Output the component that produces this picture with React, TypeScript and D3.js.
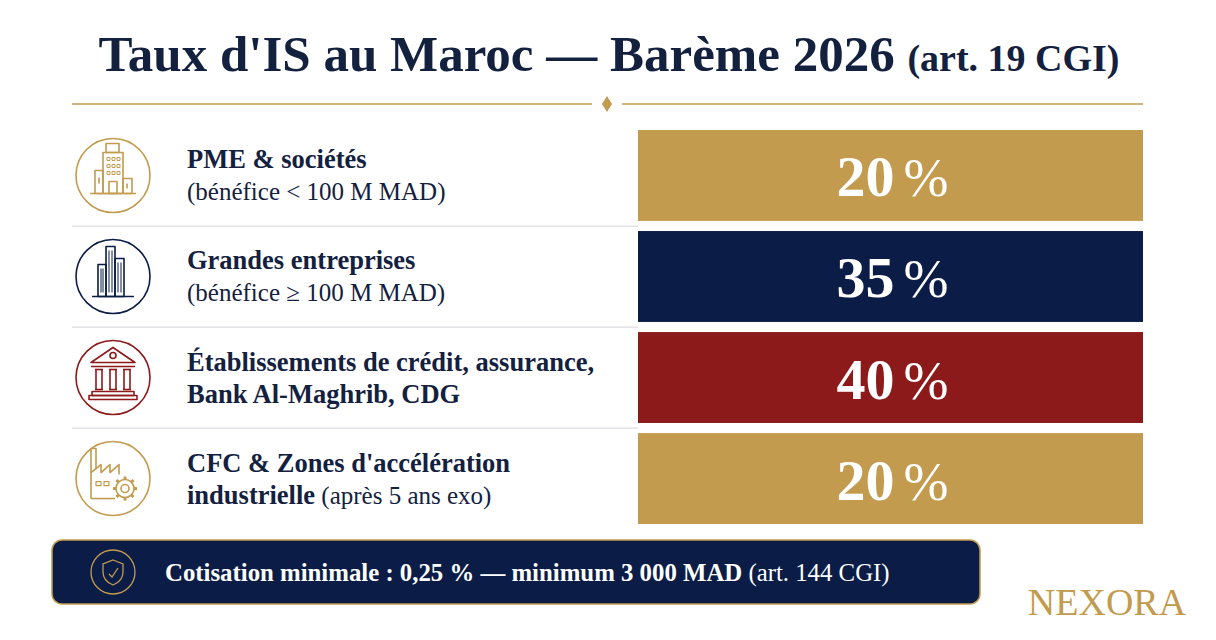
import React from "react";
import { scaleBand, scaleOrdinal } from "d3";

// Données du barème
const categories = ["pme", "grandes", "credit", "cfc"];
const labelLine1 = [
  "PME & sociétés",
  "Grandes entreprises",
  "Établissements de crédit, assurance,",
  "CFC & Zones d'accélération",
];
const labelLine2Bold = ["", "", "Bank Al-Maghrib, CDG", "industrielle"];
const labelLine2 = ["(bénéfice < 100 M MAD)", "(bénéfice ≥ 100 M MAD)", "", " (après 5 ans exo)"];
const rates = [20, 35, 40, 20];
const tones = ["gold", "navy", "red", "gold"];

const GOLD = "#c29b4f";
const NAVY = "#0b1d46";
const RED = "#8c1a1b";
const INK = "#13213f";
const FONT = "'Liberation Serif', 'Times New Roman', serif";

const W = 1216;
const H = 640;

const Icon: React.FC<{ kind: string; color: string }> = ({ kind, color }) => {
  const s = { fill: "none", stroke: color, strokeWidth: 1.6, strokeLinejoin: "round" as const };
  if (kind === "pme") {
    return (
      <g {...s}>
        <rect x={-7} y={-32} width={13} height={9} />
        <rect x={-10} y={-23} width={20} height={41} />
        <rect x={-18} y={-5} width={8} height={23} />
        <rect x={10} y={3} width={9} height={15} />
        <line x1={-23} y1={18} x2={23} y2={18} />
        {[-18, -11, -4].map((yy) =>
          [-6, -1, 4].map((xx) => <rect key={`${xx}${yy}`} x={xx} y={yy} width={3} height={3} strokeWidth={1} />)
        )}
        <rect x={-4} y={6} width={8} height={12} />
        <line x1={-14} y1={2} x2={-14} y2={8} />
        <line x1={14} y1={8} x2={14} y2={13} />
      </g>
    );
  }
  if (kind === "grandes") {
    return (
      <g {...s}>
        <rect x={-7} y={-30} width={9} height={50} />
        <rect x={2} y={-18} width={9} height={38} />
        <rect x={-15} y={-12} width={8} height={32} />
        <line x1={-21} y1={20} x2={21} y2={20} />
        {[-4, -1].map((xx) => <line key={xx} x1={xx} y1={-26} x2={xx} y2={16} strokeWidth={1} />)}
        {[5, 8].map((xx) => <line key={xx} x1={xx} y1={-14} x2={xx} y2={16} strokeWidth={1} />)}
        {[-12, -10].map((xx) => <line key={xx} x1={xx} y1={-8} x2={xx} y2={16} strokeWidth={1} />)}
      </g>
    );
  }
  if (kind === "credit") {
    return (
      <g {...s}>
        <path d="M-22,-15 L0,-30 L22,-15 Z" />
        <circle cx={0} cy={-22} r={3} />
        <line x1={-22} y1={-11} x2={22} y2={-11} />
        {[-14, 0, 14].map((xx) => (
          <g key={xx}>
            <line x1={xx - 4} y1={-8} x2={xx + 4} y2={-8} />
            <line x1={xx - 3} y1={-8} x2={xx - 3} y2={12} />
            <line x1={xx + 3} y1={-8} x2={xx + 3} y2={12} />
            <line x1={xx - 4} y1={12} x2={xx + 4} y2={12} />
          </g>
        ))}
        <rect x={-21} y={14} width={42} height={4} />
        <rect x={-24} y={18} width={48} height={4} />
      </g>
    );
  }
  // usine + engrenage
  const teeth = Array.from({ length: 8 }, (_, i) => (i * Math.PI) / 4);
  return (
    <g {...s}>
      <path d="M-22,20 L-22,-6 L-12,-14 L-12,-6 L-3,-14 L-3,-6 L6,-14 L6,-4" />
      <path d="M-22,-6 L-22,-30 L-17,-30 L-17,-10" />
      <line x1={-22} y1={20} x2={2} y2={20} />
      <rect x={-17} y={3} width={5} height={4} strokeWidth={1.2} />
      <rect x={-9} y={3} width={5} height={4} strokeWidth={1.2} />
      <g transform="translate(12,10)">
        <circle r={4} />
        <circle r={9} />
        {teeth.map((a, i) => (
          <line key={i} x1={9 * Math.cos(a)} y1={9 * Math.sin(a)} x2={12 * Math.cos(a)} y2={12 * Math.sin(a)} strokeWidth={3} />
        ))}
      </g>
    </g>
  );
};

const App: React.FC = () => {
  const yScale = scaleBand<string>().domain(categories).range([130, 524]).paddingInner(0.1);
  const color = scaleOrdinal<string, string>().domain(["gold", "navy", "red"]).range([GOLD, NAVY, RED]);

  const barX0 = 638;
  const barX1 = 1143;
  const iconX = 113;
  const textX = 187;

  return (
    <svg width={W} height={H} style={{ display: "block", margin: "-8px", fontFamily: FONT }}>
      <rect width={W} height={H} fill="#ffffff" />

      {/* Titre */}
      <text x={W / 2 + 1} y={71} textAnchor="middle" fill={INK} fontWeight="bold">
        <tspan fontSize={51}>Taux d'IS au Maroc — Barème 2026 </tspan>
        <tspan fontSize={38}>(art. 19 CGI)</tspan>
      </text>

      {/* Filet doré */}
      <line x1={72} x2={592} y1={104} y2={104} stroke={GOLD} strokeWidth={1.5} />
      <line x1={622} x2={1143} y1={104} y2={104} stroke={GOLD} strokeWidth={1.5} />
      <path d="M607,96 L612,104 L607,112 L602,104 Z" fill={GOLD} />

      {/* Lignes */}
      {categories.map((c, i) => {
        const y0 = yScale(c)!;
        const bw = yScale.bandwidth();
        const cy = y0 + bw / 2;
        const col = color(tones[i]);
        const twoBold = labelLine2Bold[i] !== "";
        return (
          <g key={c}>
            {i > 0 && (
              <line x1={72} x2={638} y1={y0 - 5} y2={y0 - 5} stroke="#dcdde2" strokeWidth={1.2} />
            )}
            <circle cx={iconX} cy={cy} r={37} fill="#fff" stroke={col} strokeWidth={1.6} />
            <g transform={`translate(${iconX},${cy})`}>
              <Icon kind={c} color={col} />
            </g>
            <text x={textX} y={cy - 7} fill={INK} fontSize={26.5} fontWeight="bold">
              {labelLine1[i]}
            </text>
            <text x={textX} y={cy + 25} fill={INK} fontSize={25}>
              {twoBold && <tspan fontWeight="bold" fontSize={26.5}>{labelLine2Bold[i]}</tspan>}
              {labelLine2[i]}
            </text>
            <rect x={barX0} y={y0} width={barX1 - barX0} height={bw} fill={col} />
            <text
              x={(barX0 + barX1) / 2 + 2}
              y={cy + 21}
              textAnchor="middle"
              fill="#fff"
              fontSize={58}
            >
              <tspan fontWeight="bold">{rates[i]}</tspan>
              <tspan dx={9} fontSize={54}>%</tspan>
            </text>
          </g>
        );
      })}

      {/* Bandeau cotisation minimale */}
      <rect x={52} y={540} width={928} height={64} rx={10} fill={NAVY} stroke={GOLD} strokeWidth={1.5} />
      <circle cx={113} cy={572} r={22} fill="none" stroke={GOLD} strokeWidth={1.3} />
      <path
        d="M113,560 L123,564 L123,572 C123,579 118,583 113,585 C108,583 103,579 103,572 L103,564 Z"
        fill="none"
        stroke={GOLD}
        strokeWidth={1.3}
      />
      <path d="M109,574 L112,577 L118,568" fill="none" stroke={GOLD} strokeWidth={1.3} />
      <text x={165} y={581} fill="#fff" fontSize={24.8}>
        <tspan fontWeight="bold">Cotisation minimale : 0,25 % — minimum 3 000 MAD</tspan>
        <tspan> (art. 144 CGI)</tspan>
      </text>

      {/* Logo */}
      <text x={1107} y={615} textAnchor="middle" fill={GOLD} fontSize={38}>
        NEXORA
      </text>
    </svg>
  );
};

export default App;
